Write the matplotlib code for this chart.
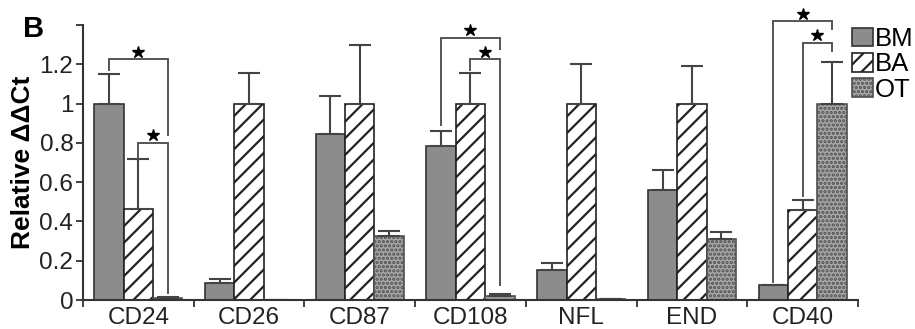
import numpy as np
import matplotlib
matplotlib.use("Agg")
import matplotlib.pyplot as plt

plt.rcParams['font.family'] = ['Liberation Sans', 'DejaVu Sans']
plt.rcParams['hatch.linewidth'] = 1.6

# values
genes = ['CD24', 'CD26', 'CD87', 'CD108', 'NFL', 'END', 'CD40']
bm = [1.0, 0.088, 0.845, 0.782, 0.153, 0.561, 0.077]
bm_err = [0.15, 0.017, 0.195, 0.08, 0.034, 0.102, 0.0]
ba = [0.463, 1.0, 1.0, 1.0, 1.0, 1.0, 0.456]
ba_err = [0.255, 0.153, 0.30, 0.153, 0.199, 0.19, 0.051]
ot = [0.012, 0.0, 0.328, 0.02, 0.005, 0.313, 1.0]
ot_err = [0.004, 0.0, 0.024, 0.009, 0.0, 0.032, 0.213]
series_names = ['BM', 'BA', 'OT']

# significance brackets: gene index, left series, right series, top, left leg end, right leg end
brackets = [
    (0, 0, 2, 1.225, 1.17, 0.84),
    (0, 1, 2, 0.80, 0.725, 0.036),
    (3, 0, 2, 1.335, 0.89, 1.276),
    (3, 1, 2, 1.225, 1.173, 0.077),
    (6, 0, 2, 1.42, 0.093, 1.378),
    (6, 1, 2, 1.31, 0.527, 1.267),
]

fig = plt.figure(figsize=(9.15, 3.29), dpi=100)
ax = fig.add_axes([0.0907, 0.0881, 0.847, 0.836])

x = np.arange(len(genes))
w = 0.265
offsets = [-w, 0, w]
edge = '#333333'
err_kw = dict(ecolor='#444444', elinewidth=1.5, capsize=8, capthick=1.5)

ax.bar(x - w, bm, w, color='#8c8c8c', edgecolor=edge, linewidth=1.2,
       label=series_names[0], yerr=[np.zeros(len(bm)), bm_err], error_kw=err_kw)
ax.bar(x, ba, w, color='white', edgecolor='#222222', linewidth=1.2, hatch='//',
       label=series_names[1], yerr=[np.zeros(len(ba)), ba_err], error_kw=err_kw)
ax.bar(x + w, ot, w, color='#a8a8a8', edgecolor='#505050', linewidth=1.2, hatch='....',
       label=series_names[2], yerr=[np.zeros(len(ot)), ot_err], error_kw=err_kw)

# brackets and stars
for g, s1, s2, top, yl, yr in brackets:
    x1 = g + offsets[s1]
    x2 = g + offsets[s2]
    ax.plot([x1, x1, x2, x2], [yl, top, top, yr], color='#555555', lw=1.4,
            clip_on=False, solid_joinstyle='miter')
    ax.plot((x1 + x2) / 2, top + 0.038, marker='*', ms=9, color='black',
            clip_on=False, linestyle='none')

ax.set_xlim(-0.5, 6.5)
ax.set_ylim(0, 1.4)
ax.set_yticks([0, 0.2, 0.4, 0.6, 0.8, 1.0, 1.2, 1.4])
ax.set_yticklabels(['0', '0.2', '0.4', '0.6', '0.8', '1', '1.2', ''])
ax.set_xticks(np.arange(-0.5, 7, 1))
ax.set_xticklabels([])
ax.set_xticks(x, minor=True)
ax.set_xticklabels(genes, minor=True)
ax.tick_params(axis='x', which='minor', length=0, labelsize=17.5, pad=5, colors='#222222')
ax.tick_params(axis='x', which='major', length=5, width=1.3, color=edge)
ax.tick_params(axis='y', length=5, width=1.3, color=edge, labelsize=17.5, pad=2,
               labelcolor='#222222')

for side in ['top', 'right']:
    ax.spines[side].set_visible(False)
for side in ['left', 'bottom']:
    ax.spines[side].set_color(edge)
    ax.spines[side].set_linewidth(1.5)

ax.set_ylabel('Relative ΔΔCt', fontsize=19, fontweight='bold', labelpad=3)

leg = ax.legend(loc='upper left', bbox_to_anchor=(852 / 915, 1 - 27 / 329),
                bbox_transform=fig.transFigure, frameon=False,
                fontsize=18.5, handlelength=0.8, handleheight=0.75, handletextpad=0.1,
                labelspacing=0.05, borderaxespad=0, borderpad=0)

fig.text(0.025, 0.955, 'B', fontsize=21, fontweight='bold', va='top', ha='left')

fig.savefig('out.png', dpi=100)
